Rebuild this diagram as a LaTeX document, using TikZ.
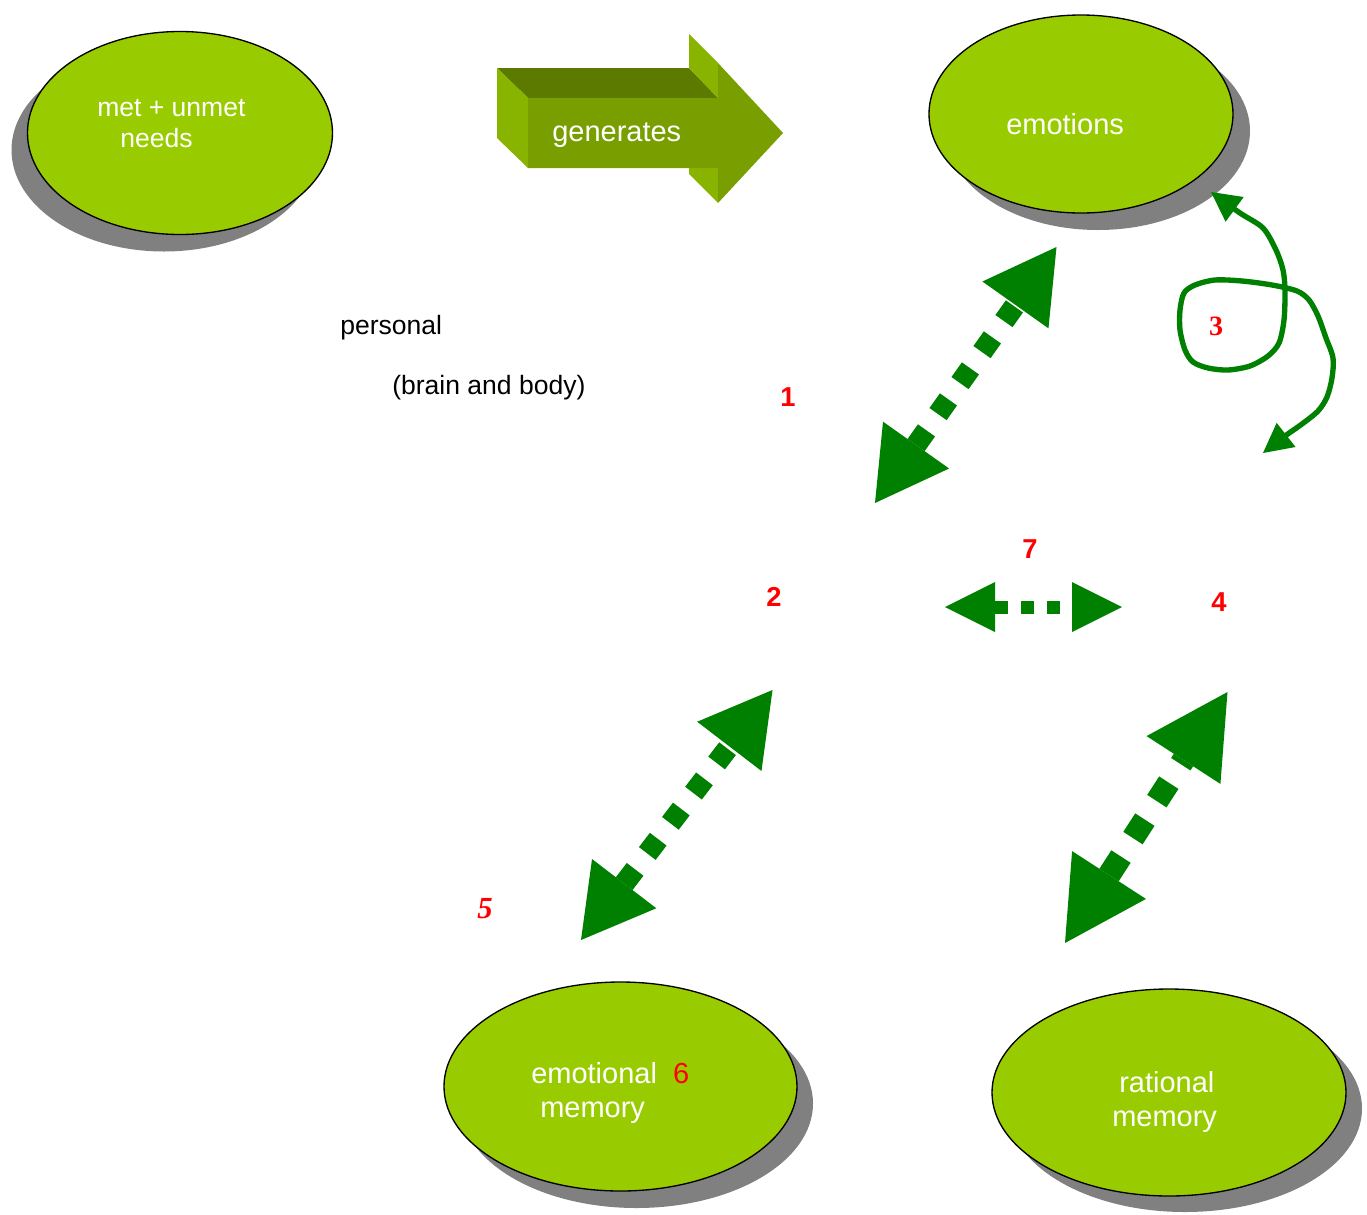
\documentclass[tikz,border=0pt]{standalone}
\usepackage{fontspec}
\setmainfont{Liberation Sans}
\newfontfamily\serifnum{Liberation Serif}
\usetikzlibrary{shapes.geometric,arrows.meta}
\definecolor{ellgreen}{HTML}{99CC00}
\definecolor{shadowgray}{HTML}{808080}
\definecolor{arrgreen}{HTML}{008000}
\definecolor{gfront}{HTML}{789E00}
\definecolor{gtop}{HTML}{5C7A00}
\definecolor{gside}{HTML}{88B400}
\tikzset{
  bubble/.style={ellipse, fill=ellgreen, draw=black, line width=1pt, inner sep=0pt, outer sep=0pt},
  bubshadow/.style={ellipse, fill=shadowgray, inner sep=0pt, outer sep=0pt},
  wtext/.style={text=white, font=\fontsize{21.75}{26}\selectfont, inner sep=0pt, anchor=base west},
  wsmall/.style={text=white, font=\fontsize{19.9}{24}\selectfont, inner sep=0pt, anchor=base west},
  btext/.style={text=black, font=\fontsize{19.9}{24}\selectfont, inner sep=0pt, anchor=base west},
  rnum/.style={text=red, font=\fontsize{20.5}{24}\selectfont\bfseries, inner sep=0pt},
  rsnum/.style={text=red, font=\fontsize{21}{25}\selectfont\serifnum\bfseries, inner sep=0pt},
  bigdash/.style={draw=arrgreen, line width=15.75pt, dash pattern=on 13.5pt off 15pt,
    {Triangle[length=53.25pt,width=60.75pt,line width=0pt]}-{Triangle[length=53.25pt,width=60.75pt,line width=0pt]}},
  huge dash/.style={draw=arrgreen, line width=17.25pt, dash pattern=on 16.5pt off 16.5pt,
    {Triangle[length=60.75pt,width=66pt,line width=0pt]}-{Triangle[length=60.75pt,width=66pt,line width=0pt]}},
  smalldash/.style={draw=arrgreen, line width=9.75pt, dash pattern=on 9.75pt off 9.75pt,
    {Triangle[length=37.5pt,width=37.5pt,line width=0pt]}-{Triangle[length=37.5pt,width=37.5pt,line width=0pt]}},
  curly/.style={draw=arrgreen, line width=4pt, line join=round, line cap=round,
    {Triangle[length=22pt,width=23pt,line width=0pt]}-{Triangle[length=22pt,width=23pt,line width=0pt]}}
}
\begin{document}
\begin{tikzpicture}[x=0.75pt, y=-0.75pt]
\useasboundingbox[fill=white] (0,0) rectangle (1367,1214);

% shadows
\node[bubshadow, minimum width=228.75pt, minimum height=152.25pt] (needsS) at (164,150) {};
\node[bubshadow, minimum width=228pt, minimum height=148.5pt] (emotionsS) at (1098,131) {};
\node[bubshadow, minimum width=264.75pt, minimum height=156.75pt] (emomemS) at (636.5,1103.5) {};
\node[bubshadow, minimum width=265.5pt, minimum height=155.25pt] (ratmemS) at (1185,1108.5) {};

% ellipses
\node[bubble, minimum width=228.75pt, minimum height=152.25pt] (needs) at (180,133) {};
\node[bubble, minimum width=228pt, minimum height=148.5pt] (emotions) at (1081,114) {};
\node[bubble, minimum width=264.75pt, minimum height=156.75pt] (emomem) at (620.5,1086.5) {};
\node[bubble, minimum width=265.5pt, minimum height=155.25pt] (ratmem) at (1169,1092.5) {};

% ellipse texts
\node[wsmall] (tneeds1) at (97,116) {met + unmet};
\node[wsmall] (tneeds2) at (120,147) {needs};
\node[wtext] (temotions) at (1006,134) {emotions};
\node[wtext] (temomem1) at (531,1083) {emotional~~\textcolor{red}{6}};
\node[wtext] (temomem2) at (540,1117) {memory};
\node[wtext] (tratmem1) at (1119,1092) {rational};
\node[wtext] (tratmem2) at (1112,1126) {memory};

% generates block arrow
\fill[gtop] (497,68) -- (689,68) -- (718,98) -- (528,98) -- cycle;
\fill[gside] (497,68) -- (528,98) -- (528,168) -- (497,138) -- cycle;
\fill[gside] (689,34) -- (718,63) -- (718,98) -- (689,68) -- cycle;
\fill[gside] (689,168) -- (718,168) -- (718,203) -- (689,174) -- cycle;
\fill[gfront] (528,98) -- (718,98) -- (718,63) -- (783,133) -- (718,203) -- (718,168) -- (528,168) -- cycle;
\node[wtext] (tgen) at (552,141) {generates};

% free texts
\node[btext] (tpersonal) at (340,334) {personal};
\node[btext] (tbrain) at (392,394) {(brain and body)};

% numbers
\node[rnum] (n1) at (788,397) {1};
\node[rnum] (n2) at (774,597) {2};
\node[rsnum] (n3) at (1216,326) {3};
\node[rnum] (n4) at (1219,602) {4};
\node[rsnum, font=\fontsize{23}{27}\selectfont\serifnum\bfseries\itshape] (n5) at (485,909) {5};
\node[rnum] (n7) at (1030,549.5) {7};

% arrow end points
\coordinate (aAb) at (875,503);
\coordinate (aAt) at (1056.5,247);
\coordinate (aBb) at (581,940);
\coordinate (aBt) at (772.5,690);
\coordinate (aCb) at (1065,943);
\coordinate (aCt) at (1227.5,692);
\coordinate (aDl) at (945,607);
\coordinate (aDr) at (1122,607);
\coordinate (cTop) at (1211,192);
\coordinate (cBot) at (1263,453);

\draw[bigdash] (aAb) -- (aAt);
\draw[bigdash] (aBb) -- (aBt);
\draw[huge dash] (aCb) -- (aCt);
\draw[smalldash] (aDl) -- (aDr);

\draw[curly] plot[smooth, tension=0.5] coordinates {
 (cTop) (1240,213) (1263,228) (1276,250) (1283,270) (1285,290) (1284,320)
 (1279,343) (1268,356) (1250,366) (1228,370) (1208,368) (1193,362) (1185,350)
 (1180,330) (1180,310) (1184,293) (1195,285) (1215,280) (1242,281) (1272,285)
 (1297,291) (1309,300) (1318,316) (1326,338) (1333,358) (1332,378) (1327,397)
 (1318,411) (1302,424) (1285,436) (cBot)};
\end{tikzpicture}
\end{document}
